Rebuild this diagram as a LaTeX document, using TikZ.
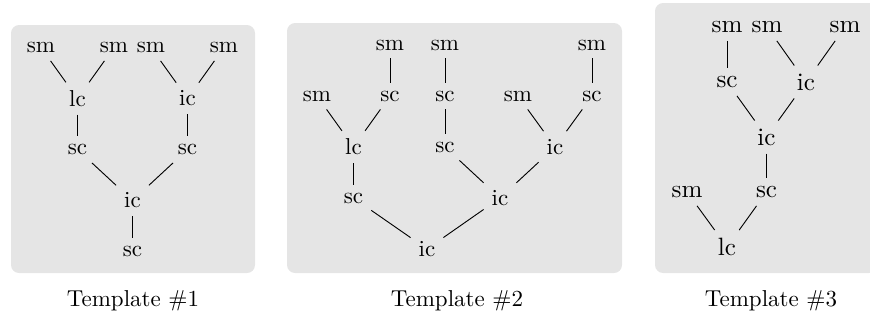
\documentclass[tikz,border=0pt]{standalone}
\usepackage{amsmath}
\usetikzlibrary{positioning}
\tikzset{
    panel/.style={fill=gray!20, rounded corners=3.5pt},
    biglbl/.style={font=\fontsize{10.9}{13}\selectfont},
}

\begin{document}
\begin{tikzpicture}[x=0.4348pt, y=-0.4348pt]
	\useasboundingbox (0,0) rectangle (870,320);
	% grey panels
	\fill[panel] (11,25) rectangle (255,273);
	\fill[panel] (287,23) rectangle (622,273);
	\fill[panel] (655,3) rectangle (877,273);
	% template 1
	\node (t1sm1) at (41,47.5) {sm};
	\node (t1sm2) at (114,47.5) {sm};
	\node (t1sm3) at (151,47.5) {sm};
	\node (t1sm4) at (224,47.5) {sm};
	\node (t1lc) at (77.5,98.5) {lc};
	\node (t1ic1) at (187.5,98.5) {ic};
	\node (t1sc1) at (77.5,149.5) {sc};
	\node (t1sc2) at (187.5,149.5) {sc};
	\node (t1ic2) at (132.5,200.5) {ic};
	\node (t1sc3) at (132.5,251.5) {sc};
	\foreach \a/\b in {t1sm1/t1lc, t1sm2/t1lc, t1sm3/t1ic1, t1sm4/t1ic1, t1lc/t1sc1, t1ic1/t1sc2, t1sc1/t1ic2, t1sc2/t1ic2, t1ic2/t1sc3}
		\draw (\a) -- (\b);
	% template 2
	\node (t2sm1) at (390,45) {sm};
	\node (t2sm2) at (445,45) {sm};
	\node (t2sm3) at (592,45) {sm};
	\node (t2sm4) at (317,96) {sm};
	\node (t2sc1) at (390,96) {sc};
	\node (t2sc2) at (445,96) {sc};
	\node (t2sm5) at (518,96) {sm};
	\node (t2sc3) at (592,96) {sc};
	\node (t2lc) at (353.5,147) {lc};
	\node (t2sc4) at (445,147) {sc};
	\node (t2ic1) at (555,147) {ic};
	\node (t2sc5) at (353.5,198) {sc};
	\node (t2ic2) at (500,198) {ic};
	\node (t2ic3) at (427,249) {ic};
	\foreach \a/\b in {t2sm1/t2sc1, t2sm2/t2sc2, t2sm3/t2sc3, t2sm4/t2lc, t2sc1/t2lc, t2sc2/t2sc4, t2sm5/t2ic1, t2sc3/t2ic1, t2lc/t2sc5, t2sc4/t2ic2, t2ic1/t2ic2, t2sc5/t2ic3, t2ic2/t2ic3}
		\draw (\a) -- (\b);
	% template 3 (a bit larger)
	\node[biglbl] (t3sm1) at (727,27) {sm};
	\node[biglbl] (t3sm2) at (767,27) {sm};
	\node[biglbl] (t3sm3) at (845,27) {sm};
	\node[biglbl] (t3sc1) at (727,82) {sc};
	\node[biglbl] (t3ic1) at (806,82) {ic};
	\node[biglbl] (t3ic2) at (766.5,137) {ic};
	\node[biglbl] (t3sm4) at (687,192) {sm};
	\node[biglbl] (t3sc2) at (766.5,192) {sc};
	\node[biglbl] (t3lc) at (727,247) {lc};
	\foreach \a/\b in {t3sm1/t3sc1, t3sm2/t3ic1, t3sm3/t3ic1, t3sc1/t3ic2, t3ic1/t3ic2, t3ic2/t3sc2, t3sm4/t3lc, t3sc2/t3lc}
		\draw (\a) -- (\b);
	% captions
	\node[anchor=base] (cap1) at (133,306) {Template \#1};
	\node[anchor=base] (cap2) at (457,306) {Template \#2};
	\node[anchor=base] (cap3) at (771,306) {Template \#3};
\end{tikzpicture}
\end{document}
